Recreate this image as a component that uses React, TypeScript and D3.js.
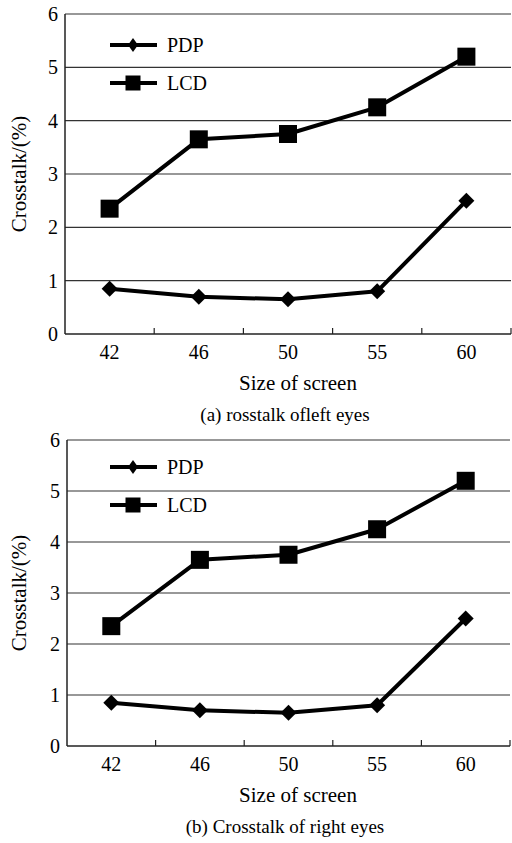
import React from "react";
import { scaleBand, scaleLinear, line, range } from "d3";

// screen sizes along the x axis
const sizes = ["42", "46", "50", "55", "60"];
const yTicks = [0, 1, 2, 3, 4, 5, 6];

// crosstalk values, same for both eyes
const pdpLeft = [0.85, 0.7, 0.65, 0.8, 2.5];
const lcdLeft = [2.35, 3.65, 3.75, 4.25, 5.2];
const pdpRight = [0.85, 0.7, 0.65, 0.8, 2.5];
const lcdRight = [2.35, 3.65, 3.75, 4.25, 5.2];

const seriesNames = ["PDP", "LCD"];

const txt = (size: number) => ({ fontFamily: "Liberation Serif", fontSize: size });

type PanelProps = {
  left: number;
  right: number;
  top: number;
  bottom: number;
  pdp: number[];
  lcd: number[];
  legendOffsets: number[];
  caption: string;
};

const Diamond = ({ x, y, rx, ry }: { x: number; y: number; rx: number; ry: number }) => (
  <path d={`M${x},${y - ry}L${x + rx},${y}L${x},${y + ry}L${x - rx},${y}Z`} fill="#000" />
);

const Square = ({ x, y, s }: { x: number; y: number; s: number }) => (
  <rect x={x - s / 2} y={y - s / 2} width={s} height={s} fill="#000" />
);

const Panel = ({ left, right, top, bottom, pdp, lcd, legendOffsets, caption }: PanelProps) => {
  const x = scaleBand().domain(sizes).range([left, right]);
  const y = scaleLinear().domain([0, 6]).range([bottom, top]);
  const cx = (d: string) => (x(d) as number) + x.bandwidth() / 2;

  const lineGen = line<number>()
    .x((_, i) => cx(sizes[i]))
    .y((d) => y(d));

  const legendX = 110;

  return (
    <g>
      {/* grid lines */}
      {yTicks.slice(1).map((t) => (
        <line key={t} x1={left} x2={right} y1={y(t)} y2={y(t)} stroke="#333" strokeWidth={1.2} />
      ))}
      {/* axes */}
      <line x1={left} x2={left} y1={top} y2={bottom} stroke="#222" strokeWidth={1.5} />
      <line x1={left} x2={right} y1={bottom} y2={bottom} stroke="#222" strokeWidth={1.5} />
      {range(1, sizes.length + 1).map((i) => {
        const tx = left + i * x.step();
        return <line key={i} x1={tx} x2={tx} y1={bottom} y2={bottom - 6} stroke="#222" strokeWidth={1.2} />;
      })}
      {yTicks.map((t) => (
        <text key={t} x={left - 7} y={y(t) + 7} textAnchor="end" style={txt(20)}>
          {t}
        </text>
      ))}
      {sizes.map((s) => (
        <text key={s} x={cx(s)} y={bottom + 25} textAnchor="middle" style={txt(20)}>
          {s}
        </text>
      ))}
      <text x={298} y={bottom + 56} textAnchor="middle" style={txt(21)}>
        Size of screen
      </text>
      <text x={285} y={bottom + 87} textAnchor="middle" style={txt(19)}>
        {caption}
      </text>
      <text transform={`translate(26,${(top + bottom) / 2}) rotate(-90)`} textAnchor="middle" style={txt(21)}>
        Crosstalk/(%)
      </text>

      {/* series */}
      <path d={lineGen(lcd) || ""} fill="none" stroke="#000" strokeWidth={4} strokeLinejoin="round" />
      <path d={lineGen(pdp) || ""} fill="none" stroke="#000" strokeWidth={4} strokeLinejoin="round" />
      {lcd.map((v, i) => (
        <Square key={i} x={cx(sizes[i])} y={y(v)} s={18} />
      ))}
      {pdp.map((v, i) => (
        <Diamond key={i} x={cx(sizes[i])} y={y(v)} rx={8} ry={8} />
      ))}

      {/* legend */}
      {seriesNames.map((name, i) => {
        const ly = top + legendOffsets[i];
        return (
          <g key={name}>
            <line x1={legendX} x2={legendX + 47} y1={ly} y2={ly} stroke="#000" strokeWidth={4} />
            {i === 0 ? (
              <Diamond x={legendX + 23} y={ly} rx={5} ry={7} />
            ) : (
              <Square x={legendX + 23} y={ly} s={15} />
            )}
            <text x={legendX + 57} y={ly + 7} style={txt(20)}>
              {name}
            </text>
          </g>
        );
      })}
    </g>
  );
};

const App = () => (
  <svg width={512} height={843} style={{ position: "absolute", left: 0, top: 0, background: "#fff" }}>
    <rect width={512} height={843} fill="#fff" />
    <Panel
      left={65}
      right={511}
      top={14}
      bottom={334}
      pdp={pdpLeft}
      lcd={lcdLeft}
      legendOffsets={[31, 69]}
      caption="(a) rosstalk ofleft eyes"
    />
    <Panel
      left={67}
      right={510}
      top={440}
      bottom={746}
      pdp={pdpRight}
      lcd={lcdRight}
      legendOffsets={[27, 65]}
      caption="(b) Crosstalk of right eyes"
    />
  </svg>
);

export default App;
